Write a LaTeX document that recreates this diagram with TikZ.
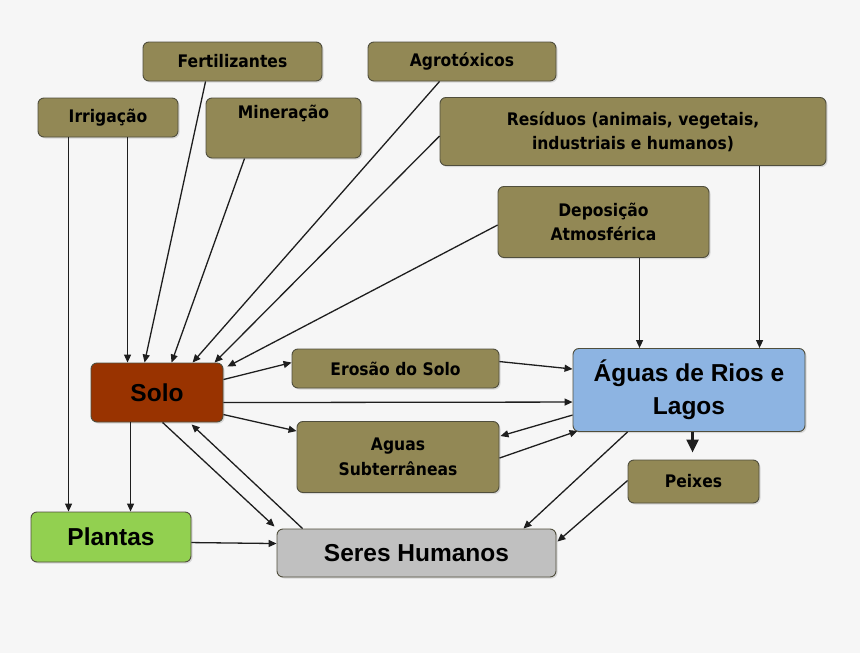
\documentclass[tikz,border=0pt]{standalone}
\usepackage{fontspec}
\setmainfont{DejaVu Sans}
\newfontfamily\smallf{DejaVu Sans}[FakeStretch=0.9]
\newfontfamily\bigf{Liberation Sans}
\usetikzlibrary{arrows.meta,calc,shadows}
\definecolor{bgc}{RGB}{246,246,246}
\definecolor{olive}{RGB}{146,136,85}
\definecolor{soloc}{RGB}{153,51,0}
\definecolor{aguac}{RGB}{141,180,226}
\definecolor{plantc}{RGB}{146,208,80}
\definecolor{seresc}{RGB}{192,192,192}
\definecolor{edgec}{RGB}{80,78,60}
\definecolor{linec}{RGB}{30,30,30}
\tikzset{
  box/.style={draw=edgec, line width=0.9pt, rounded corners=6pt, inner sep=0pt,
    align=center, text=black,
    drop shadow={opacity=0.25, shadow xshift=1.5pt, shadow yshift=-1.5pt}},
  small/.style={box, fill=olive, font=\smallf\fontsize{17.3}{24.5}\selectfont\bfseries},
  big/.style={box, font=\bigf\fontsize{24.5}{33}\selectfont\bfseries},
  conn/.style={draw=linec, line width=1.3pt, -{Triangle[length=8pt,width=7pt]}},
}
\begin{document}
\begin{tikzpicture}[x=1pt,y=-1pt]
\useasboundingbox[fill=bgc] (0,0) rectangle (860,653);
% boxes
\node[small, minimum width=179pt, minimum height=39pt] (fert) at (232.5,61.5) {Fertilizantes};
\node[small, minimum width=140pt, minimum height=39pt] (irr) at (108,117.5) {Irrigação};
\node[small, minimum width=155pt, minimum height=60pt] (min) at (283.5,128) {Mineração\\\strut};
\node[small, minimum width=188pt, minimum height=39pt] (agro) at (462,61.5) {Agrotóxicos};
\node[small, minimum width=386pt, minimum height=68pt] (res) at (633,131.5) {Resíduos (animais, vegetais,\\industriais e humanos)};
\node[small, minimum width=211pt, minimum height=71pt] (dep) at (603.5,222) {Deposição\\Atmosférica};
\node[big, fill=soloc, minimum width=132pt, minimum height=59pt] (solo) at (157,392.5) {Solo};
\node[small, minimum width=207pt, minimum height=39pt] (eros) at (395.5,368.5) {Erosão do Solo};
\node[small, minimum width=202pt, minimum height=71pt] (sub) at (398,457) {Aguas\\Subterrâneas};
\node[big, fill=aguac, minimum width=232pt, minimum height=83pt] (aguas) at (689,390) {Águas de Rios e\\Lagos};
\node[small, minimum width=131pt, minimum height=43pt] (peix) at (693.5,481.5) {Peixes};
\node[big, fill=plantc, minimum width=160pt, minimum height=50pt] (plan) at (111,537) {Plantas};
\node[big, fill=seresc, minimum width=279pt, minimum height=48pt] (seres) at (416.5,553) {Seres Humanos};
% connectors into Solo and Plantas
\draw[conn] ($(irr.south west)+(31,0)$) -- ($(plan.north west)+(38,0)$);
\draw[conn] ($(irr.south west)+(90,0)$) -- ($(solo.north west)+(37,0)$);
\draw[conn] ($(fert.south west)+(63,0)$) -- ($(solo.north west)+(54,0)$);
\draw[conn] ($(min.south west)+(39,0)$) -- ($(solo.north west)+(81,0)$);
\draw[conn] ($(agro.south west)+(72,0)$) -- ($(solo.north west)+(102,0)$);
\draw[conn] ($(res.north west)+(0,39)$) -- ($(solo.north west)+(124,0)$);
\draw[conn] ($(dep.north west)+(0,39)$) -- ($(solo.north east)+(4,4)$);
% into Aguas de Rios
\draw[conn] ($(res.south west)+(320,0)$) -- ($(aguas.north west)+(187,0)$);
\draw[conn] ($(dep.south west)+(142,0)$) -- ($(aguas.north west)+(67,0)$);
\draw[conn] ($(solo.north east)+(0,17)$) -- ($(eros.north west)+(0,14)$);
\draw[conn] ($(eros.north east)+(0,13)$) -- ($(aguas.north west)+(0,21)$);
\draw[conn] ($(solo.north east)+(0,40)$) -- ($(aguas.north west)+(0,54)$);
\draw[conn] ($(solo.north east)+(0,52)$) -- ($(sub.north west)+(0,10)$);
\draw[conn] ($(aguas.north west)+(0,67)$) -- ($(sub.north east)+(1,15)$);
\draw[conn] ($(sub.north east)+(0,37)$) -- ($(aguas.south west)+(5,-1)$);
% lower part
\draw[conn] ($(solo.south west)+(40,0)$) -- ($(plan.north west)+(100,0)$);
\draw[conn] ($(solo.south west)+(72,0)$) -- ($(seres.north west)+(-2,-2)$);
\draw[conn] ($(seres.north west)+(26,0)$) -- ($(solo.south west)+(101,2)$);
\draw[conn] ($(plan.north east)+(0,31)$) -- ($(seres.north west)+(0,15)$);
\draw[draw=linec, line width=2.6pt, -{Triangle[length=13pt,width=12pt]}] ($(aguas.south west)+(120,0)$) -- ($(peix.north west)+(65,-7)$);
\draw[conn] ($(aguas.south west)+(55,0)$) -- ($(seres.north east)+(-33,0)$);
\draw[conn] ($(peix.north west)+(0,21)$) -- ($(seres.north east)+(1,13)$);
\end{tikzpicture}
\end{document}
